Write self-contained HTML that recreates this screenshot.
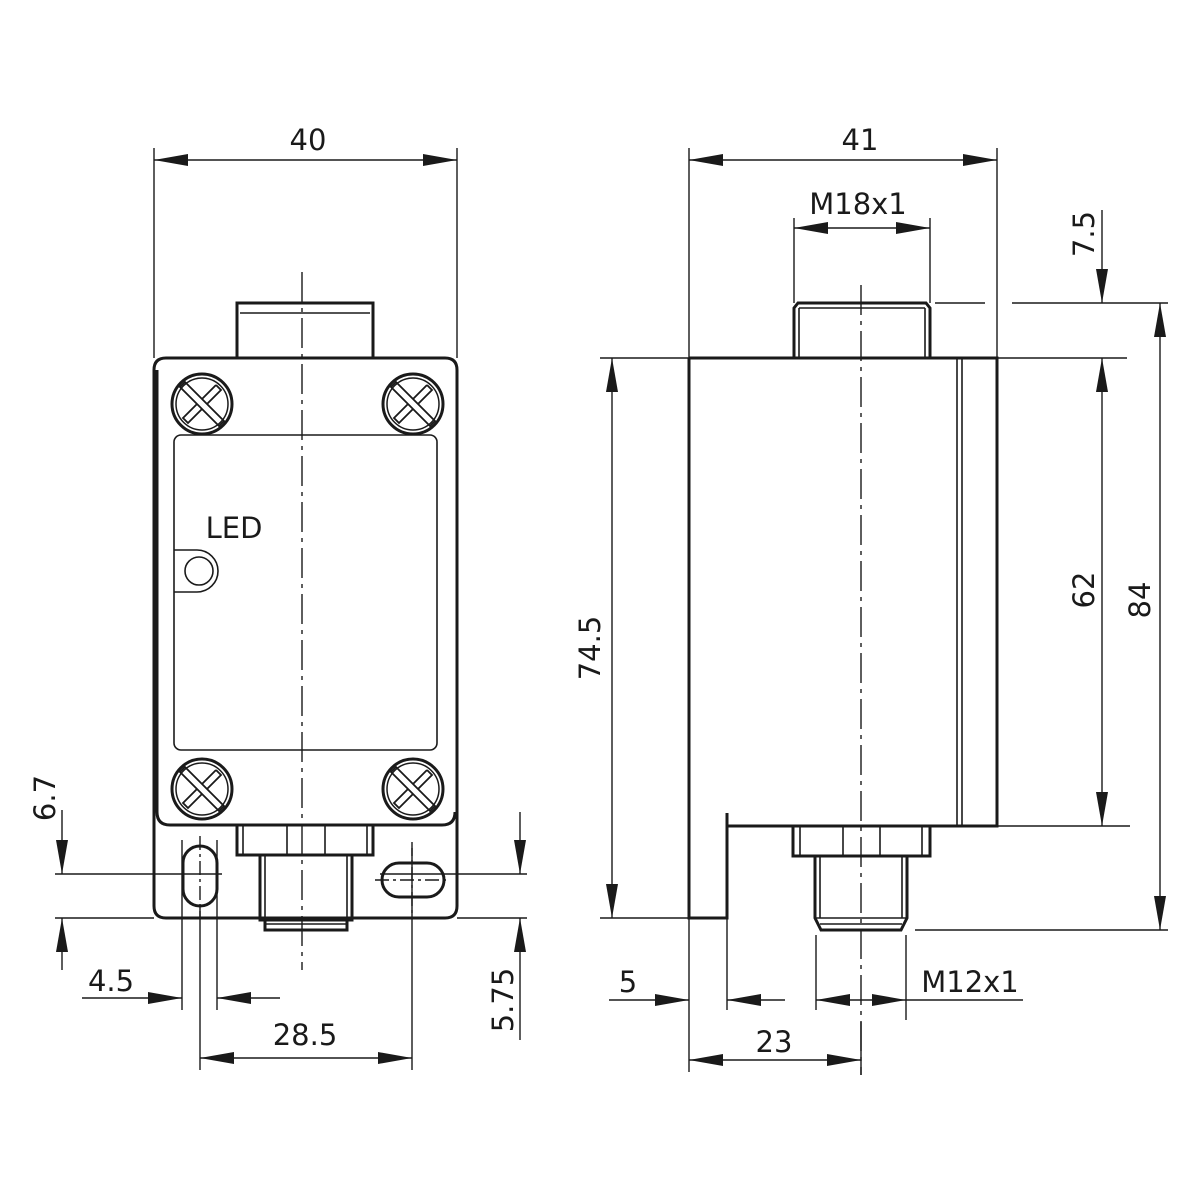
<!DOCTYPE html>
<html><head><meta charset="utf-8"><style>
html,body{margin:0;padding:0;background:#fff;}
svg{display:block;}
text{font-family:"DejaVu Sans","Liberation Sans",sans-serif;font-size:29px;fill:#1a1a1a;}
</style></head><body>
<svg width="1200" height="1200" viewBox="0 0 1200 1200" xmlns="http://www.w3.org/2000/svg">
<defs>
<marker id="a" markerUnits="userSpaceOnUse" markerWidth="36" markerHeight="12" refX="34" refY="6" orient="auto-start-reverse">
<path d="M0,0 L34,6 L0,12 Z" fill="#1a1a1a"/>
</marker>
<g id="screw">
<circle r="30" fill="none" stroke="#1a1a1a" stroke-width="3"/>
<circle r="26" fill="none" stroke="#1a1a1a" stroke-width="1.5"/>
<g fill="none" stroke="#1a1a1a" stroke-width="1.8">
<path d="M-17,-22 L22,17 L17,22 L-22,-17 Z" />
<path d="M14,-19 L19,-14 L5,0 M-5,0 L-19,14 L-14,19 L0,5 M0,-5 L14,-19"/>
</g>
</g>
</defs>
<g stroke="#1a1a1a" fill="none">
<!-- thin lines -->
<g stroke-width="1.4">
<!-- left view extension -->
<line x1="154" y1="148" x2="154" y2="358"/>
<line x1="457" y1="148" x2="457" y2="358"/>
<line x1="55" y1="874" x2="222" y2="874"/>
<line x1="55" y1="918" x2="154" y2="918"/>
<line x1="380" y1="874" x2="527" y2="874"/>
<line x1="457" y1="918" x2="527" y2="918"/>
<line x1="182" y1="840" x2="182" y2="1010"/>
<line x1="217" y1="840" x2="217" y2="1010"/>
<line x1="200" y1="905" x2="200" y2="1070"/>
<line x1="412" y1="848" x2="412" y2="1070"/>
<!-- right view extension -->
<line x1="689" y1="148" x2="689" y2="358"/>
<line x1="997" y1="148" x2="997" y2="358"/>
<line x1="794" y1="218" x2="794" y2="303"/>
<line x1="930" y1="218" x2="930" y2="303"/>
<line x1="935" y1="303" x2="985" y2="303"/>
<line x1="1012" y1="303" x2="1168" y2="303"/>
<line x1="997" y1="358" x2="1127" y2="358"/>
<line x1="997" y1="826" x2="1130" y2="826"/>
<line x1="915" y1="930" x2="1168" y2="930"/>
<line x1="600" y1="358" x2="689" y2="358"/>
<line x1="600" y1="918" x2="689" y2="918"/>
<line x1="689" y1="918" x2="689" y2="1072"/>
<line x1="727" y1="918" x2="727" y2="1010"/>
<line x1="816" y1="935" x2="816" y2="1010"/>
<line x1="906" y1="935" x2="906" y2="1020"/>
<!-- dim lines -->
<line x1="154" y1="160" x2="457" y2="160" marker-start="url(#a)" marker-end="url(#a)"/>
<line x1="62" y1="810" x2="62" y2="874" marker-end="url(#a)"/>
<line x1="62" y1="970" x2="62" y2="918" marker-end="url(#a)"/>
<line x1="520" y1="812" x2="520" y2="874" marker-end="url(#a)"/>
<line x1="520" y1="1040" x2="520" y2="918" marker-end="url(#a)"/>
<line x1="82" y1="998" x2="182" y2="998" marker-end="url(#a)"/>
<line x1="280" y1="998" x2="217" y2="998" marker-end="url(#a)"/>
<line x1="200" y1="1058" x2="412" y2="1058" marker-start="url(#a)" marker-end="url(#a)"/>
<line x1="689" y1="160" x2="997" y2="160" marker-start="url(#a)" marker-end="url(#a)"/>
<line x1="794" y1="228" x2="930" y2="228" marker-start="url(#a)" marker-end="url(#a)"/>
<line x1="1102" y1="210" x2="1102" y2="303" marker-end="url(#a)"/>
<line x1="1102" y1="358" x2="1102" y2="826" marker-start="url(#a)" marker-end="url(#a)"/>
<line x1="1160" y1="303" x2="1160" y2="930" marker-start="url(#a)" marker-end="url(#a)"/>
<line x1="612" y1="358" x2="612" y2="918" marker-start="url(#a)" marker-end="url(#a)"/>
<line x1="609" y1="1000" x2="689" y2="1000" marker-end="url(#a)"/>
<line x1="785" y1="1000" x2="727" y2="1000" marker-end="url(#a)"/>
<line x1="816" y1="1000" x2="906" y2="1000" marker-start="url(#a)" marker-end="url(#a)"/>
<line x1="906" y1="1000" x2="1023" y2="1000"/>
<line x1="689" y1="1060" x2="861" y2="1060" marker-start="url(#a)" marker-end="url(#a)"/>
<!-- centerlines -->
<line x1="302" y1="272" x2="302" y2="970" stroke-dasharray="30,6,4,6"/>
<line x1="861" y1="285" x2="861" y2="1075" stroke-dasharray="30,6,4,6"/>
<line x1="861" y1="1022" x2="861" y2="1075"/>
<line x1="200" y1="836" x2="200" y2="918" stroke-dasharray="14,4,3,4"/>
<line x1="412" y1="842" x2="412" y2="918" stroke-dasharray="14,4,3,4"/>
<line x1="375" y1="880" x2="450" y2="880" stroke-dasharray="14,4,3,4"/>
</g>
<!-- left view body -->
<g stroke-width="3">
<path d="M154,370 Q154,358 166,358 L445,358 Q457,358 457,370 L457,906 Q457,918 445,918 L166,918 Q154,918 154,906 Z"/>
<path d="M157,370 L157,812 Q157,825 170,825 L442,825 Q455,825 455,812"/>
<rect x="237" y="303" width="136" height="55"/>
<rect x="237" y="825" width="136" height="30"/>
<rect x="260" y="855" width="92" height="65"/>
<path d="M265,920 L265,930 L347,930 L347,920"/>
<rect x="183" y="846" width="34" height="60" rx="17"/>
<rect x="382" y="863" width="62" height="34" rx="17"/>
</g>
<g stroke-width="1.6">
<line x1="240" y1="313" x2="370" y2="313"/>
<rect x="174" y="435" width="263" height="315" rx="7"/>
<line x1="243" y1="825" x2="243" y2="855"/>
<line x1="287" y1="825" x2="287" y2="855"/>
<line x1="325" y1="825" x2="325" y2="855"/>
<line x1="367" y1="825" x2="367" y2="855"/>
<line x1="265" y1="855" x2="265" y2="920"/>
<line x1="347" y1="855" x2="347" y2="920"/>
<line x1="265" y1="924" x2="347" y2="924"/>
<path d="M174,550 L197,550 A21,21 0 0 1 197,592 L174,592"/>
<circle cx="199" cy="571" r="14"/>
</g>
<use href="#screw" x="202" y="404"/>
<use href="#screw" x="413" y="404"/>
<use href="#screw" x="202" y="789"/>
<use href="#screw" x="413" y="789"/>
<!-- right view -->
<g stroke-width="3">
<path d="M689,358 L997,358 L997,826 L727,826 M689,358 L689,918 L727,918 L727,813"/>
<path d="M794,358 L794,308 L798,303 L926,303 L930,308 L930,358"/>
<rect x="793" y="826" width="137" height="30"/>
<path d="M815,856 L815,918 L821,930 L901,930 L907,918 L907,856"/>
</g>
<g stroke-width="1.6">
<line x1="957" y1="358" x2="957" y2="826"/>
<line x1="962" y1="358" x2="962" y2="826"/>
<line x1="799" y1="308" x2="799" y2="358"/>
<line x1="925" y1="308" x2="925" y2="358"/>
<line x1="799" y1="308" x2="925" y2="308"/>
<line x1="800" y1="826" x2="800" y2="856"/>
<line x1="843" y1="826" x2="843" y2="856"/>
<line x1="880" y1="826" x2="880" y2="856"/>
<line x1="922" y1="826" x2="922" y2="856"/>
<line x1="820" y1="856" x2="820" y2="918"/>
<line x1="902" y1="856" x2="902" y2="918"/>
<line x1="815" y1="918" x2="907" y2="918"/>
<line x1="820" y1="924" x2="902" y2="924"/>
</g>
</g>
<!-- labels -->
<text x="308" y="150" text-anchor="middle">40</text>
<text x="234" y="538" text-anchor="middle">LED</text>
<text x="111" y="991" text-anchor="middle">4.5</text>
<text x="305" y="1045" text-anchor="middle">28.5</text>
<text transform="translate(55,798) rotate(-90)" text-anchor="middle">6.7</text>
<text transform="translate(513,1000) rotate(-90)" text-anchor="middle">5.75</text>
<text x="860" y="150" text-anchor="middle">41</text>
<text x="858" y="214" text-anchor="middle">M18x1</text>
<text transform="translate(1094,234) rotate(-90)" text-anchor="middle">7.5</text>
<text transform="translate(1094,590) rotate(-90)" text-anchor="middle">62</text>
<text transform="translate(1150,600) rotate(-90)" text-anchor="middle">84</text>
<text transform="translate(600,648) rotate(-90)" text-anchor="middle">74.5</text>
<text x="628" y="992" text-anchor="middle">5</text>
<text x="970" y="992" text-anchor="middle">M12x1</text>
<text x="774" y="1052" text-anchor="middle">23</text>
</svg>
</body></html>
